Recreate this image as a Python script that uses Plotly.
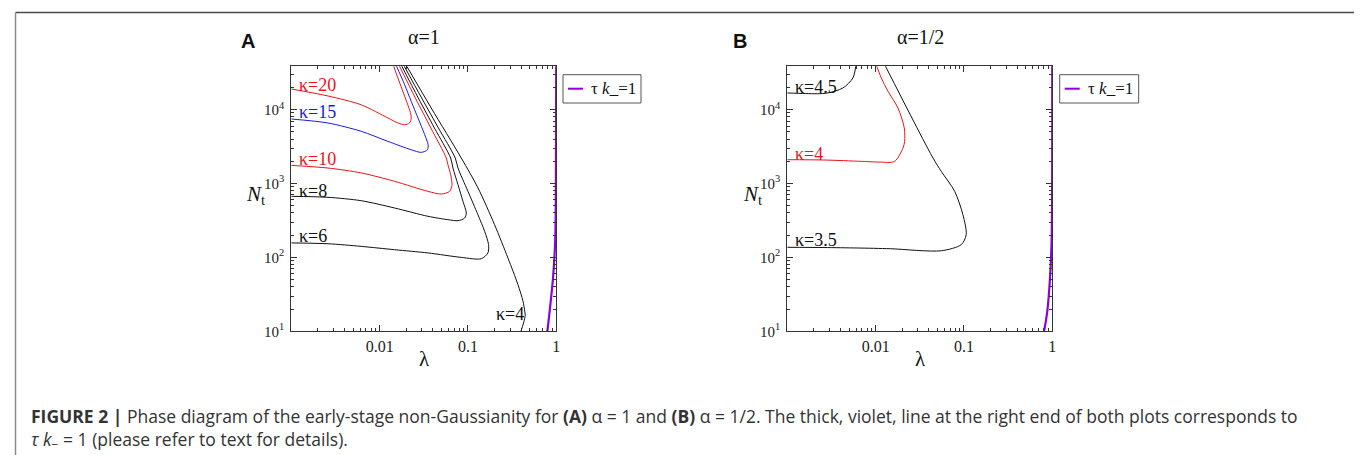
import plotly.graph_objects as go

# ---------------- data ----------------
# Panel A (alpha = 1): curves N_t(lambda) for several kappa
k20_lam = [0.001, 0.0026, 0.0062, 0.0124, 0.0161, 0.0192, 0.0218, 0.0228, 0.0220, 0.0199, 0.0174, 0.0155, 0.0142]
k20_N   = [19000, 15300, 11600, 7700, 6600, 6250, 6600, 7700, 9600, 13500, 20800, 30300, 41000]

k15_lam = [0.001, 0.0026, 0.0062, 0.0124, 0.0228, 0.0296, 0.0348, 0.0354, 0.0324, 0.0272, 0.0228, 0.0192, 0.0152]
k15_N   = [7460, 6590, 5080, 3720, 2860, 2640, 2860, 3350, 4570, 7690, 12900, 21700, 41000]

k10_lam = [0.001, 0.0026, 0.0062, 0.0148, 0.0352, 0.0499, 0.0621, 0.0659, 0.0637, 0.0593, 0.0568, 0.038, 0.0254, 0.0164]
k10_N   = [1760, 1620, 1390, 1070, 783, 721, 783, 964, 1315, 1795, 2213, 5640, 14350, 41000]

k8_lam = [0.001, 0.0026, 0.0062, 0.0148, 0.0352, 0.0593, 0.0771, 0.0918, 0.0957, 0.0877, 0.0771, 0.0676, 0.0637, 0.0417, 0.0274, 0.0174]
k8_N   = [671, 650, 585, 466, 360, 324, 314, 341, 399, 574, 964, 1622, 2213, 5640, 14350, 41000]

k6_lam = [0.001, 0.0026, 0.0062, 0.0148, 0.0352, 0.084, 0.1416, 0.1683, 0.171, 0.1545, 0.1297, 0.1, 0.0771, 0.0718, 0.0463, 0.0299, 0.0185]
k6_N   = [157, 153, 141, 127, 115, 100, 96, 115, 149, 225, 378, 783, 1622, 2213, 5640, 14350, 41000]

k4_lam = [0.372, 0.398, 0.429, 0.445, 0.439, 0.420, 0.368, 0.284, 0.200, 0.130, 0.084, 0.0384, 0.0197]
k4_N   = [7.6, 10, 13.4, 16.6, 18.7, 25.5, 42.8, 97.7, 277, 869, 2213, 10500, 41000]

tauA_lam = [0.78, 0.791, 0.841, 0.918, 0.974, 0.992, 0.998]
tauA_N   = [9, 10, 18.8, 52.6, 183, 2213, 41000]

# Panel B (alpha = 1/2)
b45_lam = [0.001, 0.0016, 0.0022, 0.00288, 0.00426, 0.00553, 0.0060]
b45_N   = [16800, 16500, 16400, 16800, 19600, 26800, 41000]

b4_lam = [0.001, 0.0026, 0.00687, 0.0106, 0.0164, 0.0204, 0.0213, 0.0211, 0.0179, 0.0138, 0.0116, 0.0101]
b4_N   = [2100, 2080, 1995, 1954, 1995, 3020, 3720, 5640, 10500, 17700, 26800, 41000]

b35_lam = [0.001, 0.0026, 0.0062, 0.0148, 0.0553, 0.0932, 0.106, 0.0973, 0.0785, 0.0553, 0.0446, 0.0126]
b35_N   = [137, 136, 134, 131, 123, 149, 203, 378, 783, 1462, 2213, 41000]

tauB_lam = [0.79, 0.806, 0.878, 0.942, 0.984, 0.998, 0.999]
tauB_N   = [9, 10, 18.8, 52.6, 183, 2213, 41000]

x_tickvals = [0.01, 0.1, 1]
x_ticktext = ["0.01", "0.1", "1"]
y_tickvals = [10, 100, 1000, 10000]
y_ticktext = ["10<sup>1</sup>", "10<sup>2</sup>", "10<sup>3</sup>", "10<sup>4</sup>"]
x_minor = [m * d for d in (0.001, 0.01, 0.1) for m in range(2, 10)]
y_minor = [m * d for d in (10, 100, 1000) for m in range(2, 10)] + [20000, 30000]

# ---------------- layout helpers ----------------
W, H = 1362, 455
def px(x):
    return x / W
def py(y):
    return 1 - y / H

RED = "#e8141c"
BLUE = "#1a1ae6"
BLACK = "#111111"
VIOLET = "#8a00e0"
SERIF = "Liberation Serif, Times New Roman, serif"
SANS = "Liberation Sans, Arial, sans-serif"
CAPF = "Open Sans, Liberation Sans, sans-serif"

fig = go.Figure()

def add(lam, N, color, xa, ya, width=1.0):
    fig.add_trace(go.Scatter(x=lam, y=N, mode="lines", line=dict(color=color, width=width, shape="spline", smoothing=0.8),
                             xaxis=xa, yaxis=ya, showlegend=False, hoverinfo="skip"))

add(k20_lam, k20_N, RED, "x", "y")
add(k15_lam, k15_N, BLUE, "x", "y")
add(k10_lam, k10_N, RED, "x", "y")
add(k8_lam, k8_N, BLACK, "x", "y")
add(k6_lam, k6_N, BLACK, "x", "y")
add(k4_lam, k4_N, BLACK, "x", "y")
add(tauA_lam, tauA_N, VIOLET, "x", "y", 2.2)

add(b45_lam, b45_N, BLACK, "x2", "y2")
add(b4_lam, b4_N, RED, "x2", "y2")
add(b35_lam, b35_N, BLACK, "x2", "y2")
add(tauB_lam, tauB_N, VIOLET, "x2", "y2", 2.2)

def xaxis_def(x0, x1):
    return dict(type="log", range=[-3, 0], domain=[px(x0), px(x1)],
                showline=True, linecolor="#333", linewidth=1, mirror="ticks",
                ticks="inside", ticklen=6, tickwidth=1, tickcolor="#333",
                tickmode="array", tickvals=x_tickvals, ticktext=x_ticktext,
                minor=dict(ticks="inside", ticklen=3, tickwidth=1, tickcolor="#333",
                           tickmode="array", tickvals=x_minor, showgrid=False),
                showgrid=False, zeroline=False,
                tickfont=dict(family=SERIF, size=16, color="#222"))

def yaxis_def():
    return dict(type="log", range=[1, 4.586], domain=[py(323.3), py(58.3)],
                showline=True, linecolor="#333", linewidth=1, mirror="ticks",
                ticks="inside", ticklen=6, tickwidth=1, tickcolor="#333",
                tickmode="array", tickvals=y_tickvals, ticktext=y_ticktext,
                minor=dict(ticks="inside", ticklen=3, tickwidth=1, tickcolor="#333",
                           tickmode="array", tickvals=y_minor, showgrid=False),
                showgrid=False, zeroline=False, ticklabelstandoff=3,
                tickfont=dict(family=SERIF, size=15, color="#222"))

xa = xaxis_def(283.3, 548.3); xa["anchor"] = "y"
xb = xaxis_def(779.3, 1044.3); xb["anchor"] = "y2"
ya = yaxis_def(); ya["anchor"] = "x"
yb = yaxis_def(); yb["anchor"] = "x2"

ann = []
def text(x, y, s, size, color="#111", family=SERIF, xanchor="center", yanchor="middle", align="center"):
    ann.append(dict(x=px(x), y=py(y), xref="paper", yref="paper", text=s, showarrow=False, align=align,
                    xanchor=xanchor, yanchor=yanchor, font=dict(family=family, size=size, color=color)))

# panel letters and titles
text(240, 33, "<b>A</b>", 20, "#111", SANS)
text(732, 33, "<b>B</b>", 20, "#111", SANS)
text(416, 29, "α=1", 20)
text(912, 29, "α=1/2", 20)
# axis titles
for xc in (247, 744):
    text(xc, 187, "<i>N</i><sub>t</sub>", 21)
for xc in (416, 912):
    text(xc, 351, "λ", 21)

# kappa labels (panel A)
text(289, 76.5, "κ=20", 18, RED, xanchor="left")
text(289, 104, "κ=15", 18, BLUE, xanchor="left")
text(289, 151.5, "κ=10", 18, RED, xanchor="left")
text(289, 182.5, "κ=8", 18, BLACK, xanchor="left")
text(289, 227.5, "κ=6", 18, BLACK, xanchor="left")
text(486, 306, "κ=4", 18, BLACK, xanchor="left")
# kappa labels (panel B)
text(785, 79, "κ=4.5", 18, BLACK, xanchor="left")
text(785, 145.5, "κ=4", 18, RED, xanchor="left")
text(785, 231.5, "κ=3.5", 18, BLACK, xanchor="left")

shapes = []
# legends drawn as boxes
for bx0, bx1 in ((555, 633), (1051.7, 1130.7)):
    shapes.append(dict(type="rect", xref="paper", yref="paper", x0=px(bx0), x1=px(bx1), y0=py(95), y1=py(66.7),
                       line=dict(color="#555", width=1), fillcolor="white"))
    shapes.append(dict(type="line", xref="paper", yref="paper", x0=px(bx0 + 5), x1=px(bx0 + 20), y0=py(80.7), y1=py(80.7),
                       line=dict(color=VIOLET, width=2)))
    text(bx0 + 26, 80.5, "τ <i>k</i>_=1", 17, "#111", xanchor="left")

# outer frame of the figure page
shapes.append(dict(type="line", xref="paper", yref="paper", x0=px(7.5), x1=px(1355.5), y0=py(4.5), y1=py(4.5),
                   line=dict(color="#4a4a4a", width=1.5)))
shapes.append(dict(type="line", xref="paper", yref="paper", x0=px(7.5), x1=px(7.5), y0=py(4.5), y1=0,
                   line=dict(color="#8a8a8a", width=1.5)))
shapes.append(dict(type="line", xref="paper", yref="paper", x0=px(1355.5), x1=px(1355.5), y0=py(4.5), y1=0,
                   line=dict(color="#8a8a8a", width=1.5)))

# caption (two lines in one block)
caption = ("<b>FIGURE 2 |</b> Phase diagram of the early-stage non-Gaussianity for <b>(A)</b> α = 1 and "
           "<b>(B)</b> α = 1/2. The thick, violet, line at the right end of both plots corresponds to"
           "<br><i>τ k</i><sub>−</sub> = 1 (please refer to text for details).")
text(21, 420, caption, 17.5, "#333", CAPF, xanchor="left", align="left")

fig.update_layout(
    width=W, height=H,
    margin=dict(l=0, r=0, t=0, b=0, autoexpand=False),
    paper_bgcolor="white", plot_bgcolor="white",
    xaxis=xa, yaxis=ya, xaxis2=xb, yaxis2=yb,
    annotations=ann, shapes=shapes, showlegend=False,
)

fig.write_html("out.html")
